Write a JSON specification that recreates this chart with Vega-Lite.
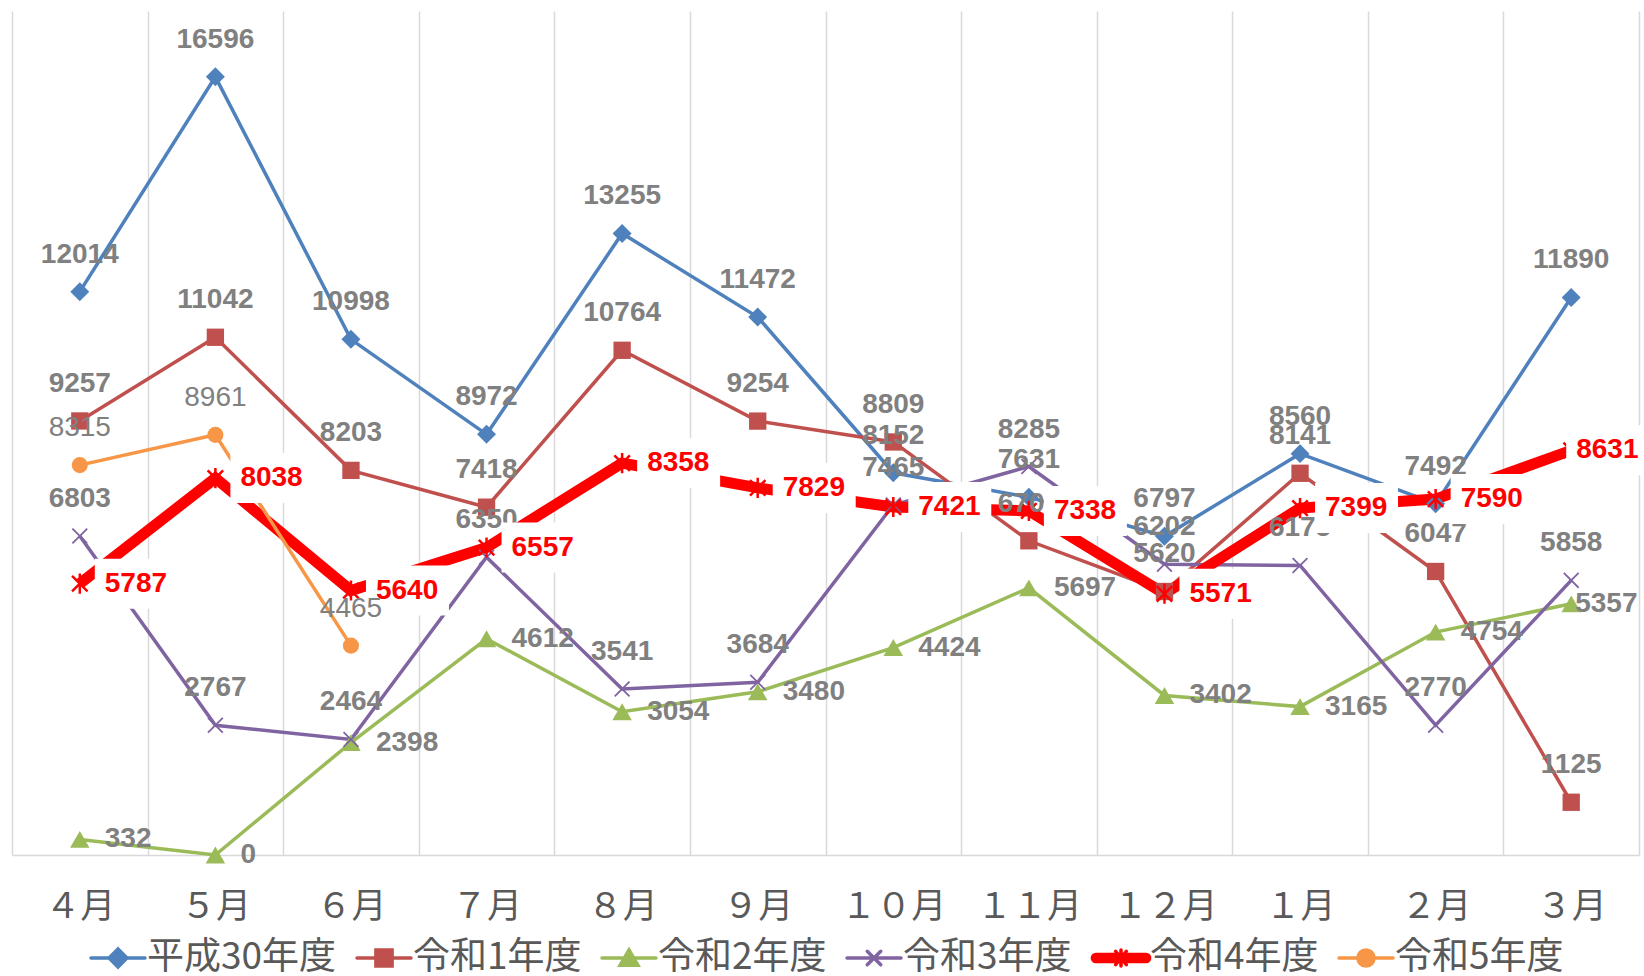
{
  "$schema": "https://vega.github.io/schema/vega-lite/v6.json",
  "width": 1627,
  "height": 844,
  "autosize": {"type": "none"},
  "padding": {"left": 12, "top": 11, "right": 5, "bottom": 121},
  "background": "white",
  "config": {"view": {"stroke": null}, "font": "Liberation Sans"},
  "data": {"values": [
    {"series": "平成30年度", "month": "４月", "value": 12014},
    {"series": "平成30年度", "month": "５月", "value": 16596},
    {"series": "平成30年度", "month": "６月", "value": 10998},
    {"series": "平成30年度", "month": "７月", "value": 8972},
    {"series": "平成30年度", "month": "８月", "value": 13255},
    {"series": "平成30年度", "month": "９月", "value": 11472},
    {"series": "平成30年度", "month": "１０月", "value": 8152},
    {"series": "平成30年度", "month": "１１月", "value": 7631},
    {"series": "平成30年度", "month": "１２月", "value": 6797},
    {"series": "平成30年度", "month": "１月", "value": 8560},
    {"series": "平成30年度", "month": "２月", "value": 7492},
    {"series": "平成30年度", "month": "３月", "value": 11890},
    {"series": "令和1年度", "month": "４月", "value": 9257},
    {"series": "令和1年度", "month": "５月", "value": 11042},
    {"series": "令和1年度", "month": "６月", "value": 8203},
    {"series": "令和1年度", "month": "７月", "value": 7418},
    {"series": "令和1年度", "month": "８月", "value": 10764},
    {"series": "令和1年度", "month": "９月", "value": 9254},
    {"series": "令和1年度", "month": "１０月", "value": 8809},
    {"series": "令和1年度", "month": "１１月", "value": 6701},
    {"series": "令和1年度", "month": "１２月", "value": 5620},
    {"series": "令和1年度", "month": "１月", "value": 8141},
    {"series": "令和1年度", "month": "２月", "value": 6047},
    {"series": "令和1年度", "month": "３月", "value": 1125},
    {"series": "令和2年度", "month": "４月", "value": 332},
    {"series": "令和2年度", "month": "５月", "value": 0},
    {"series": "令和2年度", "month": "６月", "value": 2398},
    {"series": "令和2年度", "month": "７月", "value": 4612},
    {"series": "令和2年度", "month": "８月", "value": 3054},
    {"series": "令和2年度", "month": "９月", "value": 3480},
    {"series": "令和2年度", "month": "１０月", "value": 4424},
    {"series": "令和2年度", "month": "１１月", "value": 5697},
    {"series": "令和2年度", "month": "１２月", "value": 3402},
    {"series": "令和2年度", "month": "１月", "value": 3165},
    {"series": "令和2年度", "month": "２月", "value": 4754},
    {"series": "令和2年度", "month": "３月", "value": 5357},
    {"series": "令和3年度", "month": "４月", "value": 6803},
    {"series": "令和3年度", "month": "５月", "value": 2767},
    {"series": "令和3年度", "month": "６月", "value": 2464},
    {"series": "令和3年度", "month": "７月", "value": 6350},
    {"series": "令和3年度", "month": "８月", "value": 3541},
    {"series": "令和3年度", "month": "９月", "value": 3684},
    {"series": "令和3年度", "month": "１０月", "value": 7465},
    {"series": "令和3年度", "month": "１１月", "value": 8285},
    {"series": "令和3年度", "month": "１２月", "value": 6202},
    {"series": "令和3年度", "month": "１月", "value": 6175},
    {"series": "令和3年度", "month": "２月", "value": 2770},
    {"series": "令和3年度", "month": "３月", "value": 5858},
    {"series": "令和4年度", "month": "４月", "value": 5787},
    {"series": "令和4年度", "month": "５月", "value": 8038},
    {"series": "令和4年度", "month": "６月", "value": 5640},
    {"series": "令和4年度", "month": "７月", "value": 6557},
    {"series": "令和4年度", "month": "８月", "value": 8358},
    {"series": "令和4年度", "month": "９月", "value": 7829},
    {"series": "令和4年度", "month": "１０月", "value": 7421},
    {"series": "令和4年度", "month": "１１月", "value": 7338},
    {"series": "令和4年度", "month": "１２月", "value": 5571},
    {"series": "令和4年度", "month": "１月", "value": 7399},
    {"series": "令和4年度", "month": "２月", "value": 7590},
    {"series": "令和4年度", "month": "３月", "value": 8631},
    {"series": "令和5年度", "month": "４月", "value": 8315},
    {"series": "令和5年度", "month": "５月", "value": 8961},
    {"series": "令和5年度", "month": "６月", "value": 4465}
  ]},
  "encoding": {
    "x": {
      "field": "month", "type": "ordinal", "bandPosition": 0.5,
      "scale": {"type": "band", "paddingInner": 0, "paddingOuter": 0,
        "domain": ["４月","５月","６月","７月","８月","９月","１０月","１１月","１２月","１月","２月","３月"]},
      "axis": {"title": null, "labelAngle": 0, "tickBand": "extent", "ticks": false, "grid": true,
        "gridColor": "#d9d9d9", "gridWidth": 1.5, "domainColor": "#d9d9d9", "domainWidth": 1.5,
        "labelFont": "Noto Sans CJK JP", "labelFontSize": 35, "labelColor": "#595959", "labelPadding": 34}
    },
    "y": {"field": "value", "type": "quantitative", "scale": {"domain": [0, 18000], "nice": false}, "axis": null}
  },
  "layer": [
    {
      "transform": [{"filter": {"field": "series", "oneOf": ["平成30年度","令和1年度","令和2年度","令和3年度"]}}],
      "mark": {"type": "line", "strokeWidth": 3.5},
      "encoding": {
        "color": {"field": "series", "type": "nominal",
          "scale": {"domain": ["平成30年度","令和1年度","令和2年度","令和3年度","令和4年度","令和5年度"],
                    "range": ["#4F81BD","#C0504D","#9BBB59","#8064A2","#FF0000","#F79646"]},
          "legend": {
            "orient": "none", "legendX": 77, "legendY": 918, "direction": "horizontal", "columns": 6,
            "title": null, "padding": 0, "labelFont": "Noto Sans CJK JP", "labelFontSize": 37,
            "labelColor": "#595959", "labelLimit": 600, "symbolType": "circle", "symbolSize": 2916,
            "symbolStrokeWidth": 3.5, "labelOffset": 0, "columnPadding": 13,
            "encode": {"symbols": {"update": {
              "shape": {"signal": "['M-1,0L1,0M-0.33,0L0,-0.33L0.33,0L0,0.33Z','M-1,0L1,0M-0.3,-0.3H0.3V0.3H-0.3Z','M-1,0L1,0M0,-0.3L0.33,0.27L-0.33,0.27Z','M-1,0L1,0M-0.25,-0.25L0.25,0.25M-0.25,0.25L0.25,-0.25','M-0.93,-0.13H0.93A0.13,0.13,0,0,1,0.93,0.13H-0.93A0.13,0.13,0,0,1,-0.93,-0.13ZM-0.2,-0.25L0.2,0.25M-0.2,0.25L0.2,-0.25M0,-0.3L0,0.3','M-1,0L1,0M-0.3,0A0.3,0.3,0,1,1,0.3,0A0.3,0.3,0,1,1,-0.3,0Z'][datum.index]"},
              "fill": {"signal": "['#4F81BD','#C0504D','#9BBB59','#8064A2','#FF0000','#F79646'][datum.index]"},
              "stroke": {"signal": "['#4F81BD','#C0504D','#9BBB59','#8064A2','#FF0000','#F79646'][datum.index]"},
              "strokeWidth": {"value": 3.5},
              "strokeCap": {"value": "round"},
              "opacity": {"value": 1}
            }}}
          }
        }
      }
    },
    {
      "transform": [{"filter": {"field": "series", "equal": "令和4年度"}}],
      "mark": {"type": "line", "strokeWidth": 11, "color": "#FF0000"},
      "encoding": {}
    },
    {
      "transform": [{"filter": {"field": "series", "equal": "令和5年度"}}],
      "mark": {"type": "line", "strokeWidth": 3.5, "color": "#F79646"},
      "encoding": {}
    },
    {
      "transform": [{"filter": {"field": "series", "equal": "平成30年度"}}],
      "mark": {"type": "point", "shape": "diamond", "filled": true, "opacity": 1, "color": "#4F81BD", "size": 360}
    },
    {
      "transform": [{"filter": {"field": "series", "equal": "令和1年度"}}],
      "mark": {"type": "point", "shape": "square", "filled": true, "opacity": 1, "color": "#C0504D", "size": 300}
    },
    {
      "transform": [{"filter": {"field": "series", "equal": "令和2年度"}}],
      "mark": {"type": "point", "shape": "triangle-up", "filled": true, "opacity": 1, "color": "#9BBB59", "size": 380}
    },
    {
      "transform": [{"filter": {"field": "series", "equal": "令和3年度"}}],
      "mark": {"type": "point", "shape": "M-1,-1L1,1M-1,1L1,-1", "filled": false, "opacity": 1, "color": "#8064A2", "size": 220, "strokeWidth": 1.8}
    },
    {
      "transform": [{"filter": {"field": "series", "equal": "令和4年度"}}],
      "mark": {"type": "point", "shape": "M-1,-1L1,1M-1,1L1,-1M0,-1.3L0,1.3", "filled": false, "opacity": 1, "color": "#FF0000", "size": 240, "strokeWidth": 2.5}
    },
    {
      "transform": [{"filter": {"field": "series", "equal": "令和5年度"}}],
      "mark": {"type": "point", "shape": "circle", "filled": true, "opacity": 1, "color": "#F79646", "size": 260}
    },
    {
      "transform": [{"filter": {"field": "series", "oneOf": ["平成30年度","令和1年度","令和3年度"]}}],
      "mark": {"type": "text", "dy": -37, "fontWeight": "bold", "fontSize": 28, "fill": "#808080", "font": "Liberation Sans", "baseline": "middle"},
      "encoding": {"text": {"field": "value", "type": "quantitative", "format": "d"}}
    },
    {
      "transform": [{"filter": {"field": "series", "equal": "令和2年度"}}],
      "mark": {"type": "text", "dx": {"expr": "datum.month === '３月' ? 4 : 25"}, "align": "left", "fontWeight": "bold", "fontSize": 28, "fill": "#808080", "font": "Liberation Sans", "baseline": "middle"},
      "encoding": {"text": {"field": "value", "type": "quantitative", "format": "d"}}
    },
    {
      "transform": [{"filter": {"field": "series", "equal": "令和4年度"}}],
      "mark": {"type": "point", "shape": {"expr": "datum.month === '３月' ? 'M-0.1,-0.5H1.4V0.5H-0.1Z' : 'M0.3,-0.5H1.96V0.5H0.3Z'"}, "size": 10000, "filled": true, "fill": "white", "opacity": 1, "strokeWidth": 0}
    },
    {
      "transform": [{"filter": {"field": "series", "equal": "令和4年度"}}],
      "mark": {"type": "text", "dx": {"expr": "datum.month === '３月' ? 5 : 25"}, "align": "left", "fontWeight": "bold", "fontSize": 28, "fill": "#FF0000", "font": "Liberation Sans", "baseline": "middle"},
      "encoding": {"text": {"field": "value", "type": "quantitative", "format": "d"}}
    },
    {
      "transform": [{"filter": {"field": "series", "equal": "令和5年度"}}],
      "mark": {"type": "text", "dy": -37, "fontWeight": "normal", "fontSize": 28, "fill": "#808080", "font": "Liberation Sans", "baseline": "middle"},
      "encoding": {"text": {"field": "value", "type": "quantitative", "format": "d"}}
    }
  ]
}
